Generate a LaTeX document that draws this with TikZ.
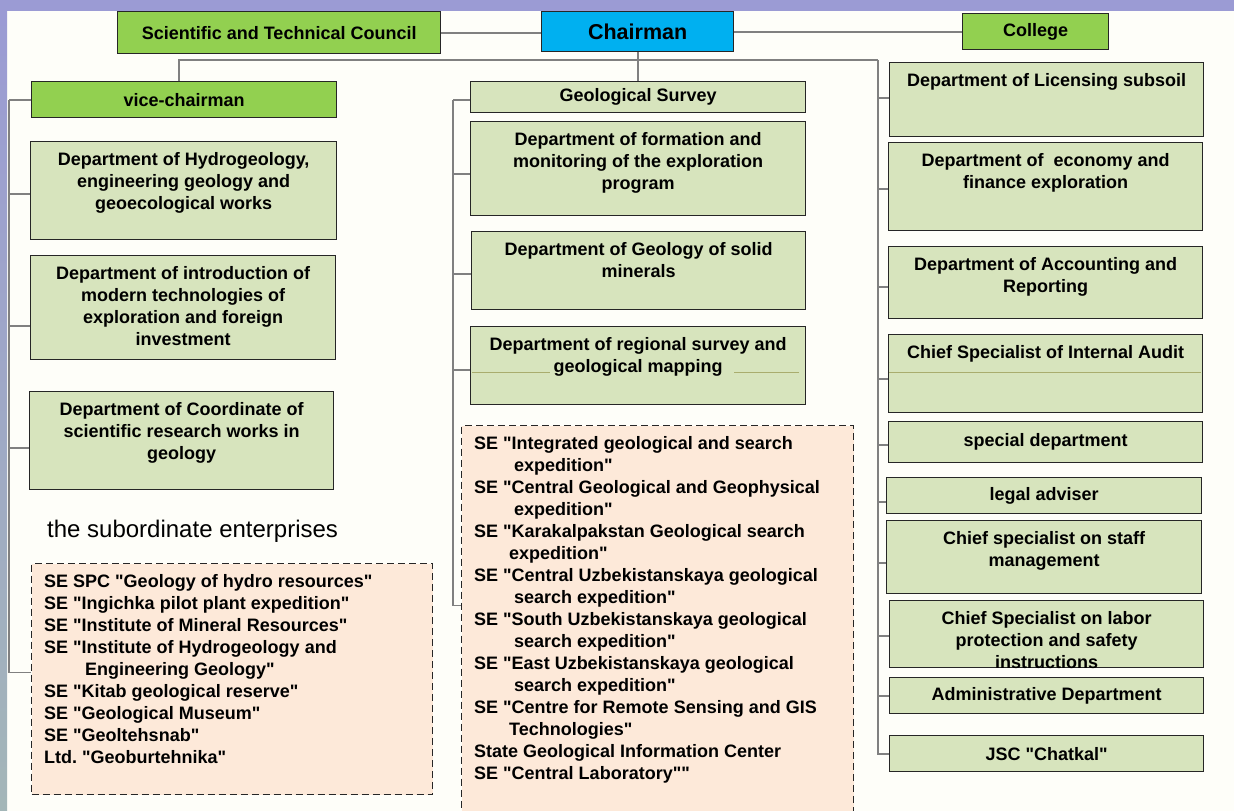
\documentclass[tikz,border=0pt]{standalone}
\usepackage{fontspec}
\setmainfont{Liberation Sans}
\newfontfamily\orgfont{Liberation Sans}
\frenchspacing
\definecolor{pagebg}{HTML}{FEFEF9}
\definecolor{bandblue}{HTML}{9B9BD4}
\definecolor{stripmid}{HTML}{C9D0F2}
\definecolor{stripbot}{HTML}{A3B6B8}
\definecolor{linegray}{HTML}{808080}
\definecolor{boxline}{HTML}{262626}
\definecolor{deptfill}{HTML}{D7E4BD}
\definecolor{headgreen}{HTML}{92D050}
\definecolor{chairblue}{HTML}{00B0F0}
\definecolor{sefill}{HTML}{FDE9D9}
\definecolor{seamolive}{HTML}{A9AD6E}
\newcommand{\boxfont}{\orgfont\fontsize{18}{22}\selectfont\bfseries}
\tikzset{
  conn/.style={draw=linegray, line width=1.8pt},
  box/.style={draw=boxline, line width=1.3pt, anchor=north west, inner sep=0pt, font=\boxfont},
  dept/.style={box, fill=deptfill},
  head/.style={box, fill=headgreen},
  toptext/.style={label={[anchor=north, inner sep=0pt, yshift=-11pt, align=center, font=\boxfont]north:{#1}}},
  selist/.style={draw=boxline, line width=1.1pt, dash pattern=on 7pt off 4pt, fill=sefill, anchor=north west, inner sep=0pt},
  setext/.style={label={[anchor=north west, inner sep=0pt, xshift=13pt, yshift=-11pt, align=left, font=\boxfont]north west:{#1}}},
  seam/.style={draw=seamolive, line width=0.8pt}
}
\begin{document}
\begin{tikzpicture}[x=1pt, y=-1pt]
% page and frame
\useasboundingbox (0,0) rectangle (1234,811);
\fill[pagebg] (0,0) rectangle (1234,811);
\fill[bandblue] (0,0) rectangle (1234,10.5);
\shade[top color=bandblue, middle color=stripmid, bottom color=stripbot] (0,10.5) rectangle (7,811);

% top row
\node[head, minimum width=323pt, minimum height=42pt] (stc) at (117,11) {Scientific and Technical Council};
\node[box, fill=chairblue, minimum width=192pt, minimum height=40pt, font=\orgfont\fontsize{21.5}{25}\selectfont\bfseries] (chair) at (541,11) {Chairman};
\node[head, minimum width=146pt, minimum height=36pt] (col) at (962,13) {College};

% left column
\node[head, minimum width=305pt, minimum height=36pt] (vc) at (31,81) {vice-chairman};
\node[dept, minimum width=306pt, minimum height=98pt, toptext={Department of Hydrogeology,\\engineering geology and\\geoecological works}] (hydro) at (30,141) {};
\node[dept, minimum width=305pt, minimum height=104pt, toptext={Department of introduction of\\modern technologies of\\exploration and foreign\\investment}] (intro) at (30,255) {};
\node[dept, minimum width=304pt, minimum height=98pt, toptext={Department of Coordinate of\\scientific research works in\\geology}] (coord) at (29,391) {};
\node[anchor=west, inner sep=0pt, font=\orgfont\fontsize{24}{28}\selectfont] (subtitle) at (47,531) {the subordinate enterprises};
\node[selist, minimum width=401pt, minimum height=231pt, setext={SE SPC "Geology of hydro resources"\\
SE "Ingichka pilot plant expedition"\\
SE "Institute of Mineral Resources"\\
SE "Institute of Hydrogeology and\\
\hspace*{41pt}Engineering Geology"\\
SE "Kitab geological reserve"\\
SE "Geological Museum"\\
SE "Geoltehsnab"\\
Ltd. "Geoburtehnika"}] (sel) at (31,563) {};

% middle column
\node[dept, minimum width=335pt, minimum height=31pt] (gs) at (470,81) {Geological Survey};
\node[dept, minimum width=335pt, minimum height=94pt, toptext={Department of formation and\\monitoring of the exploration\\program}] (form) at (470,121) {};
\node[dept, minimum width=334pt, minimum height=78pt, toptext={Department of Geology of solid\\minerals}] (solid) at (471,231) {};
\node[dept, minimum width=335pt, minimum height=78pt, toptext={Department of regional survey and\\geological mapping}] (reg) at (470,326) {};
\node[selist, minimum width=392pt, minimum height=392pt, setext={SE "Integrated geological and search\\
\hspace*{40pt}expedition"\\
SE "Central Geological and Geophysical\\
\hspace*{40pt}expedition"\\
SE "Karakalpakstan Geological search\\
\hspace*{35pt}expedition"\\
SE "Central Uzbekistanskaya geological\\
\hspace*{40pt}search expedition"\\
SE "South Uzbekistanskaya geological\\
\hspace*{40pt}search expedition"\\
SE "East Uzbekistanskaya geological\\
\hspace*{40pt}search expedition"\\
SE "Centre for Remote Sensing and GIS\\
\hspace*{35pt}Technologies"\\
State Geological Information Center\\
SE "Central Laboratory""}] (sem) at (461,425) {};

% right column
\node[dept, minimum width=314pt, minimum height=74pt, toptext={Department of Licensing subsoil}] (lic) at (889,62) {};
\node[dept, minimum width=314pt, minimum height=88pt, toptext={Department of \ economy and\\finance exploration}] (eco) at (888,142) {};
\node[dept, minimum width=314pt, minimum height=72pt, toptext={Department of Accounting and\\Reporting}] (acc) at (888,246) {};
\node[dept, minimum width=314pt, minimum height=78pt, toptext={Chief Specialist of Internal Audit}] (aud) at (888,334) {};
\node[dept, minimum width=314pt, minimum height=41pt] (spec) at (888,421) {special department};
\node[dept, minimum width=315pt, minimum height=36pt] (legal) at (886,477) {legal adviser};
\node[dept, minimum width=315pt, minimum height=73pt, toptext={Chief specialist on staff\\management}] (staff) at (886,520) {};
\node[dept, minimum width=314pt, minimum height=67pt, toptext={Chief Specialist on labor\\protection and safety\\instructions}] (labor) at (889,600) {};
\node[dept, minimum width=314pt, minimum height=36pt] (admin) at (889,677) {Administrative Department};
\node[dept, minimum width=314pt, minimum height=36pt] (jsc) at (889,735) {JSC "Chatkal"};

% seams inside two boxes
\draw[seam] ([xshift=2pt,yshift=-7pt]reg.west) -- ([xshift=80pt,yshift=-7pt]reg.west);
\draw[seam] ([xshift=-72pt,yshift=-7pt]reg.east) -- ([xshift=-7pt,yshift=-7pt]reg.east);
\draw[seam] ([xshift=1pt,yshift=1pt]aud.west) -- ([xshift=-2pt,yshift=1pt]aud.east);

% connectors
\coordinate (ltop) at ([xshift=-22pt]vc.west);
\coordinate (mtop) at ([xshift=-17pt,yshift=-3pt]gs.west);
\coordinate (rtop) at (878,60);
\draw[conn] (stc.east) -- (stc.east -| chair.west);
\draw[conn] (chair.east) -- (chair.east -| col.west);
\draw[conn] (chair.south) -- (chair.south |- gs.north);
\draw[conn] ([xshift=-5.5pt]vc.north) |- (rtop);
\draw[conn] (vc.west) -- (ltop);
\foreach \b/\s in {hydro/-3,intro/-18,coord/-7,sel/6.5}
  \draw[conn] ([yshift=\s pt]\b.west) -| (ltop);
\draw[conn] ([yshift=-3pt]gs.west) -- (mtop);
\foreach \b/\s in {form/-5,solid/-3,reg/-4,sem/16}
  \draw[conn] ([yshift=\s pt]\b.west) -| (mtop);
\foreach \b/\s in {lic/2,eco/-2,acc/-4,aud/-5,spec/-2.5,legal/-6,staff/-5.5,labor/-1.5,admin/0,jsc/0}
  \draw[conn] ([yshift=\s pt]\b.west) -| (rtop);
\end{tikzpicture}
\end{document}
